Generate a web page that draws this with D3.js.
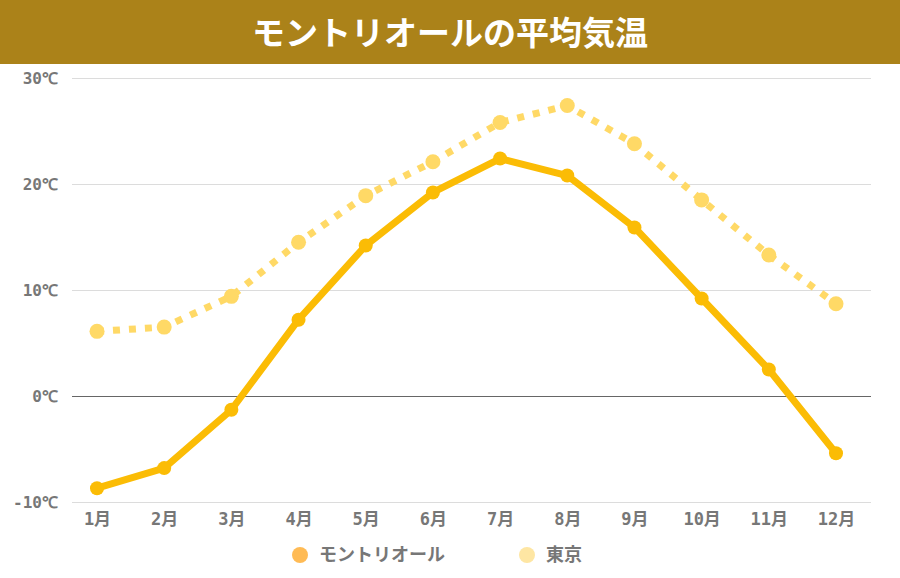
<!DOCTYPE html>
<html>
<head>
<meta charset="utf-8">
<script src="https://cdn.jsdelivr.net/npm/d3@7"></script>
<style>
  body { margin: 0; background: #fff; }
  svg { display: block; }
</style>
</head>
<body>
<div id="chart"></div>
<script>
// Data
const months = ["1月", "2月", "3月", "4月", "5月", "6月", "7月", "8月", "9月", "10月", "11月", "12月"];
const montreal = [-8.7, -6.8, -1.3, 7.2, 14.2, 19.2, 22.4, 20.8, 15.9, 9.2, 2.5, -5.4];
const tokyo = [6.1, 6.5, 9.4, 14.5, 18.9, 22.1, 25.8, 27.4, 23.8, 18.5, 13.3, 8.7];
const yTicks = [-10, 0, 10, 20, 30];
const seriesNames = ["モントリオール", "東京"];
const title = "モントリオールの平均気温";

const width = 900, height = 578;
const margin = { top: 78, right: 29, bottom: 76, left: 72 };

const svg = d3.select("#chart").append("svg")
    .attr("width", width)
    .attr("height", height);

// Title bar
svg.append("rect")
    .attr("width", width)
    .attr("height", 64)
    .attr("fill", "#ab8219");

svg.append("text")
    .attr("x", width / 2)
    .attr("y", 45)
    .attr("text-anchor", "middle")
    .style("font-family", "'Noto Sans CJK JP', sans-serif")
    .style("font-weight", "bold")
    .style("font-size", "33px")
    .style("fill", "#fff")
    .text(title);

// Scales
const x = d3.scalePoint()
    .domain(months)
    .range([97, 836]);

const y = d3.scaleLinear()
    .domain([-10, 30])
    .range([height - margin.bottom, margin.top]);

// Grid lines + y labels
svg.append("g")
    .attr("transform", `translate(${margin.left},0)`)
    .call(d3.axisLeft(y)
        .tickValues(yTicks)
        .tickSize(-(width - margin.left - margin.right))
        .tickPadding(14)
        .tickFormat(d => d + "℃"))
    .call(g => g.select(".domain").remove())
    .call(g => g.selectAll(".tick line")
        .attr("stroke", d => d === 0 ? "#666" : "#dcdcdc")
        .attr("stroke-width", 1))
    .call(g => g.selectAll(".tick text")
        .style("font-family", "'DejaVu Sans Mono', monospace")
        .style("font-weight", "bold")
        .style("font-size", "16px")
        .style("fill", "#777"));

// X labels
svg.append("g")
    .attr("transform", `translate(0,${height - margin.bottom})`)
    .call(d3.axisBottom(x).tickSize(0).tickPadding(11))
    .call(g => g.select(".domain").remove())
    .call(g => g.selectAll(".tick text")
        .style("font-family", "'DejaVu Sans Mono', 'Noto Sans CJK JP', monospace")
        .style("font-weight", "bold")
        .style("font-size", "17px")
        .style("fill", "#777"));

const line = d3.line()
    .x((d, i) => x(months[i]))
    .y(d => y(d));

// Tokyo (dotted)
svg.append("path")
    .datum(tokyo)
    .attr("fill", "none")
    .attr("stroke", "#ffd966")
    .attr("stroke-width", 7)
    .attr("stroke-dasharray", "7,9")
    .attr("d", line);

svg.append("g").selectAll("circle")
    .data(tokyo)
    .join("circle")
    .attr("cx", (d, i) => x(months[i]))
    .attr("cy", d => y(d))
    .attr("r", 7.5)
    .attr("fill", "#ffd966");

// Montreal (solid)
svg.append("path")
    .datum(montreal)
    .attr("fill", "none")
    .attr("stroke", "#fbbc05")
    .attr("stroke-width", 7)
    .attr("stroke-linejoin", "round")
    .attr("d", line);

svg.append("g").selectAll("circle")
    .data(montreal)
    .join("circle")
    .attr("cx", (d, i) => x(months[i]))
    .attr("cy", d => y(d))
    .attr("r", 7)
    .attr("fill", "#fbbc05");

// Legend
const legendColors = ["#ffbb55", "#fee6a3"];
const legendX = [300, 527];
const legend = svg.append("g")
    .selectAll("g")
    .data(seriesNames)
    .join("g")
    .attr("transform", (d, i) => `translate(${legendX[i]},555)`);

legend.append("circle")
    .attr("r", 8)
    .attr("fill", (d, i) => legendColors[i]);

legend.append("text")
    .attr("x", 19)
    .attr("dy", "0.35em")
    .style("font-family", "'Noto Sans CJK JP', sans-serif")
    .style("font-weight", "bold")
    .style("font-size", "18px")
    .style("fill", "#777")
    .text(d => d);
</script>
</body>
</html>
